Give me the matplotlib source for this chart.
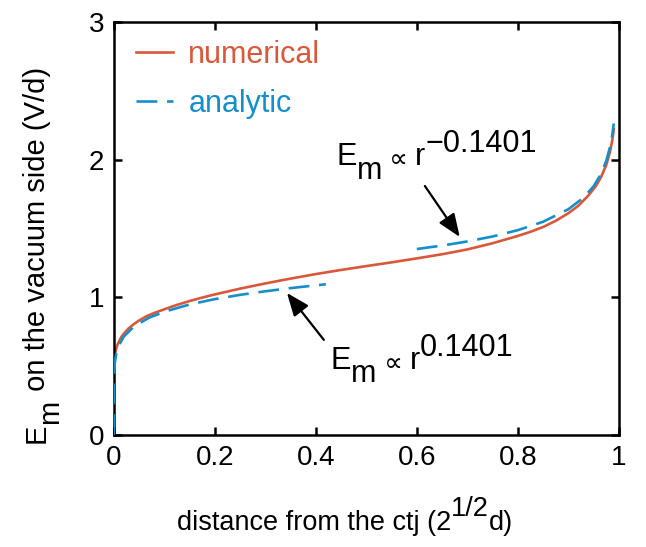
import matplotlib
matplotlib.use("Agg")
import matplotlib.pyplot as plt

plt.rcParams['font.family'] = ['Liberation Sans', 'DejaVu Sans']
plt.rcParams['lines.scale_dashes'] = False

# ---- data ----
x_num = [0, 0.0003, 0.001, 0.002, 0.004, 0.007, 0.01, 0.015, 0.02, 0.03, 0.04, 0.05,
         0.065, 0.08, 0.1, 0.125, 0.15, 0.175, 0.2, 0.25, 0.3, 0.35, 0.4, 0.45, 0.5,
         0.55, 0.6, 0.65, 0.7, 0.75, 0.8, 0.825, 0.85, 0.875, 0.9, 0.92, 0.94, 0.955,
         0.965, 0.975, 0.982, 0.987, 0.99]
y_num = [0, 0.48, 0.535, 0.57, 0.615, 0.65, 0.675, 0.71, 0.735, 0.775, 0.805, 0.83,
         0.862, 0.885, 0.912, 0.944, 0.972, 0.997, 1.02, 1.062, 1.10, 1.135, 1.168, 1.198, 1.226,
         1.253, 1.282, 1.312, 1.347, 1.392, 1.445, 1.475, 1.51, 1.555, 1.61, 1.665, 1.74, 1.81,
         1.875, 1.96, 2.05, 2.14, 2.22]

x_an_left = [0, 0.0005, 0.002, 0.005, 0.01, 0.02, 0.04, 0.07, 0.1, 0.15, 0.2, 0.25, 0.3, 0.35, 0.42]
y_an_left = [0, 0.426, 0.517, 0.588, 0.648, 0.714, 0.787, 0.851, 0.894, 0.947, 0.986, 1.017, 1.043, 1.066, 1.094]

x_an_right = [0.6, 0.65, 0.7, 0.75, 0.8, 0.85, 0.9, 0.93, 0.95, 0.965, 0.975, 0.982, 0.987, 0.99]
y_an_right = [1.35, 1.375, 1.405, 1.441, 1.487, 1.548, 1.639, 1.723, 1.806, 1.898, 1.990, 2.084, 2.181, 2.262]

x_ticks = [0, 0.2, 0.4, 0.6, 0.8, 1]
x_tick_labels = ['0', '0.2', '0.4', '0.6', '0.8', '1']
y_ticks = [0, 1, 2, 3]
y_tick_labels = ['0', '1', '2', '3']

RED = '#D9573A'
BLUE = '#148FCC'
FS_TICK = 20
FS_LAB = 19.5
FS_YLAB = 21
FS_ANN = 22
FS_LEG = 22

fig = plt.figure(figsize=(6.46, 5.47), dpi=100)
ax = fig.add_axes([0.176, 0.205, 0.782, 0.755])

ax.plot(x_num, y_num, color=RED, lw=1.9, label='numerical', zorder=2)
ln_l, = ax.plot(x_an_left, y_an_left, color=BLUE, lw=1.9, label='analytic', zorder=3)
ln_r, = ax.plot(x_an_right, y_an_right, color=BLUE, lw=1.9, zorder=3)
for ln in (ln_l, ln_r):
    ln.set_dashes((15, 7))

ax.set_xlim(0, 1)
ax.set_ylim(0, 3)
ax.set_xticks(x_ticks)
ax.set_xticklabels(x_tick_labels)
ax.set_yticks(y_ticks)
ax.set_yticklabels(y_tick_labels)
ax.tick_params(direction='in', length=6, width=1.8, top=True, right=True,
               labelsize=FS_TICK, pad=7)
for s in ax.spines.values():
    s.set_linewidth(1.8)

leg = ax.legend(loc='upper left', bbox_to_anchor=(0.045, 0.957), frameon=False,
                fontsize=FS_LEG, handlelength=1.2, handletextpad=0.5,
                labelspacing=0.62, labelcolor='linecolor', borderaxespad=0.0,
                borderpad=0.0)


def rich(x, y, parts, coords, fs, rotation=0):
    """parts: list of (text, shift_in_em, scale)."""
    prev = None
    prev_shift = 0.0
    for txt, sh, sc in parts:
        if prev is None:
            if rotation == 0:
                t = ax.annotate(txt, xy=(x, y), xycoords=coords, fontsize=fs * sc,
                                ha='left', va='bottom', annotation_clip=False)
            else:
                t = fig.text(x, y, txt, fontsize=fs * sc, rotation=90,
                             ha='right', va='bottom')
        else:
            d = (sh - prev_shift) * fs
            if rotation == 0:
                t = ax.annotate(txt, xy=(1, 0), xycoords=prev, xytext=(0, d),
                                textcoords='offset points', fontsize=fs * sc,
                                ha='left', va='bottom', annotation_clip=False)
            else:
                t = ax.annotate(txt, xy=(1, 1), xycoords=prev, xytext=(-d, 0),
                                textcoords='offset points', fontsize=fs * sc,
                                rotation=90, ha='right', va='bottom',
                                annotation_clip=False)
        prev = t
        prev_shift = sh


# annotations
rich(0.441, 1.91, [('E', 0, 1), ('m', -0.45, 1), (' \u221d ', 0, 0.85), ('r', 0, 1),
                   ('\u22120.1401', 0.43, 1)], 'data', FS_ANN)
rich(0.43, 0.43, [('E', 0, 1), ('m', -0.45, 1), (' \u221d ', 0, 0.85), ('r', 0, 1),
                  ('0.1401', 0.43, 1)], 'data', FS_ANN)

arrow = dict(arrowstyle='-|>,head_length=0.7,head_width=0.28', lw=1.6, color='k',
             mutation_scale=20, shrinkA=0, shrinkB=0)
ax.annotate('', xy=(0.685, 1.438), xytext=(0.616, 1.808), arrowprops=arrow)
ax.annotate('', xy=(0.343, 1.031), xytext=(0.416, 0.69), arrowprops=arrow)

# x label (with full-size superscript)
rich(177 / 646, 1 - 536 / 547, [('distance from the ctj (2', 0, 1), ('1/2', 0.5, 1),
                                ('d)', 0, 1)], 'figure fraction', FS_LAB)

# y label (rotated, with full-size subscript)
rich(51 / 646, 1 - 443 / 547, [('E', 0, 1), ('m', -0.46, 1),
                               (' on the vacuum side (V/d)', 0, 1)], 'figure', FS_YLAB,
     rotation=90)

fig.savefig('out.png', dpi=100)
